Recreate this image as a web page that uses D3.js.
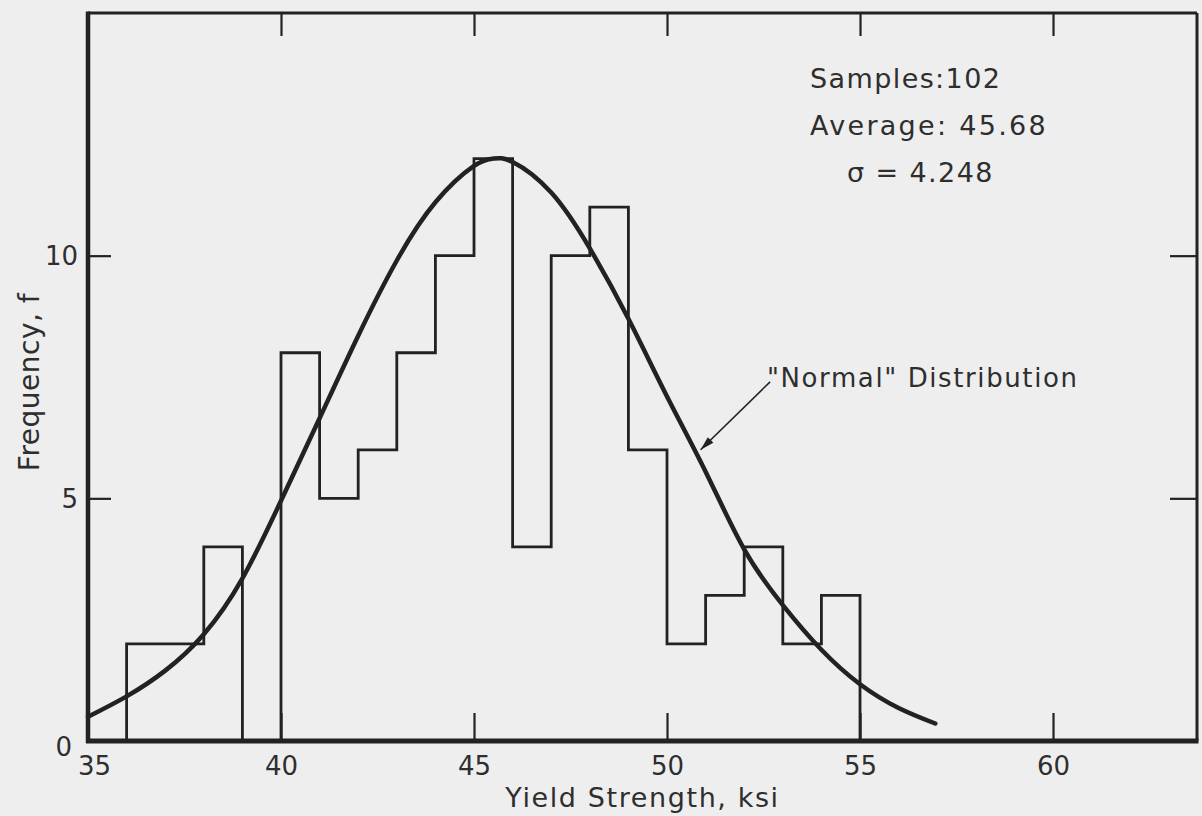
<!DOCTYPE html>
<html>
<head>
<meta charset="utf-8">
<script src="https://cdn.jsdelivr.net/npm/d3@7"></script>
<style>
  html, body { margin: 0; padding: 0; background: #eeeeee; }
  svg { display: block; }
  text { font-family: "DejaVu Sans", sans-serif; fill: #2e2e2e; }
</style>
</head>
<body>
<svg id="chart" width="1202" height="816"></svg>
<script>
// ---- data ----
const xTicks = [35, 40, 45, 50, 55, 60];
const yTicks = [0, 5, 10];
const binStarts = [36, 37, 38, 39, 40, 41, 42, 43, 44, 45, 46, 47, 48, 49, 50, 51, 52, 53, 54];
const binCounts = [2, 2, 4, 0, 8, 5, 6, 8, 10, 12, 4, 10, 11, 6, 2, 3, 4, 2, 3];
const binWidth = 1;
// "Normal" distribution curve
const normalX = [35, 36, 37, 38, 39, 40, 41, 42, 43, 44, 45, 45.5, 46, 47, 48, 49, 50, 51, 52, 53, 54, 55, 56, 56.95];
const normalY = [0.5, 0.92, 1.45, 2.2, 3.35, 4.95, 6.65, 8.35, 9.9, 11.1, 11.85, 12.0, 11.93, 11.3, 10.15, 8.7, 7.1, 5.55, 3.95, 2.8, 1.88, 1.17, 0.68, 0.36];
const statLines = ["Samples:102", "Average: 45.68", "\u03C3 = 4.248"];
const curveLabel = "\"Normal\" Distribution";
const xTitle = "Yield Strength, ksi";
const yTitle = "Frequency, f";

// ---- layout ----
const svg = d3.select("#chart");
const ink = "#222";
const x = d3.scaleLinear().domain([35, 63.73]).range([88, 1197]);
const y = d3.scaleLinear().domain([0, 15]).range([741, 13]);

// frame
const frame = svg.append("g");
frame.append("line").attr("x1", x.range()[0]).attr("x2", x.range()[1]).attr("y1", y(15)).attr("y2", y(15)).attr("stroke", ink).attr("stroke-width", 3);
frame.append("line").attr("x1", x.range()[1]).attr("x2", x.range()[1]).attr("y1", y(15)).attr("y2", y(0)).attr("stroke", ink).attr("stroke-width", 3);
frame.append("line").attr("x1", x.range()[0]).attr("x2", x.range()[0]).attr("y1", y(15) - 1.5).attr("y2", y(0) + 2).attr("stroke", ink).attr("stroke-width", 4.5);

// axes with inward ticks
const tickStroke = 2.2;
const axB = svg.append("g").attr("transform", `translate(0,${y(0)})`)
  .call(d3.axisBottom(x).tickValues(xTicks).tickSize(-28).tickPadding(0).tickFormat(d3.format("d")));
const axT = svg.append("g").attr("transform", `translate(0,${y(15)})`)
  .call(d3.axisTop(x).tickValues(xTicks.slice(1)).tickSize(-23).tickFormat(""));
const axL = svg.append("g").attr("transform", `translate(${x(35)},0)`)
  .call(d3.axisLeft(y).tickValues(yTicks).tickSize(-23).tickPadding(10).tickFormat(d3.format("d")));
const axR = svg.append("g").attr("transform", `translate(${x.range()[1]},0)`)
  .call(d3.axisRight(y).tickValues(yTicks.slice(1)).tickSize(-27).tickFormat(""));
[axB, axT, axL, axR].forEach(g => {
  g.select(".domain").remove();
  g.selectAll(".tick line").attr("stroke", ink).attr("stroke-width", tickStroke);
  g.selectAll("text").attr("font-family", null).style("font-size", "26px").attr("fill", "#2e2e2e");
});
axB.select(".tick line").remove();
axL.selectAll(".tick").filter(d => d === 0).select("line").remove();
axB.selectAll(".tick text").attr("y", 34).attr("dy", 0)
  .attr("dx", d => d === 35 ? 6 : 0);
axL.selectAll(".tick text").attr("dy", d => d === 0 ? "0.55em" : "0.35em")
  .attr("dx", d => d === 0 ? -6 : 0);

// bottom baseline (thick)
svg.append("line").attr("x1", x.range()[0] - 2).attr("x2", x.range()[1] + 1.5).attr("y1", y(0)).attr("y2", y(0)).attr("stroke", ink).attr("stroke-width", 5);

// histogram outline (step)
const histLine = d3.line().x(d => x(d[0])).y(d => y(d[1])).curve(d3.curveStepAfter);
const histPts = [[binStarts[0], 0], [binStarts[0], binCounts[0]]]
  .concat(binStarts.slice(1).map((b, i) => [b, binCounts[i + 1]]))
  .concat([[binStarts[binStarts.length - 1] + binWidth, 0]]);
svg.append("path").attr("d", histLine(histPts)).attr("fill", "none").attr("stroke", ink).attr("stroke-width", 2.8).attr("stroke-linejoin", "miter");

// normal curve
const curveLine = d3.line().x((d, i) => x(normalX[i])).y((d, i) => y(normalY[i])).curve(d3.curveNatural);
svg.append("path").attr("d", curveLine(normalX)).attr("fill", "none").attr("stroke", ink).attr("stroke-width", 4.5).attr("stroke-linecap", "round");

// stats text
const statX = [810, 810, 847];
const statY = [88, 135, 182];
svg.selectAll("text.stat").data(statLines).join("text").attr("class", "stat")
  .attr("x", (d, i) => statX[i]).attr("y", (d, i) => statY[i])
  .style("font-size", "27px").style("letter-spacing", (d, i) => i === 1 ? "2.3px" : "1.4px").text(d => d);

// curve label + arrow
svg.append("text").attr("x", 767).attr("y", 387).style("font-size", "26px").style("letter-spacing", "1.6px").text(curveLabel);
const tail = [52.67, 7.4], tip = [50.87, 6.0];
svg.append("line").attr("x1", x(tail[0])).attr("y1", y(tail[1])).attr("x2", x(tip[0])).attr("y2", y(tip[1]))
  .attr("stroke", ink).attr("stroke-width", 1.6);
{
  const ax = x(tip[0]), ay = y(tip[1]);
  const ang = Math.atan2(y(tail[1]) - ay, x(tail[0]) - ax);
  const L = 14, W = 4;
  const p = (l, w) => [ax + l * Math.cos(ang) - w * Math.sin(ang), ay + l * Math.sin(ang) + w * Math.cos(ang)];
  svg.append("path").attr("d", d3.line()([p(0, 0), p(L, W), p(L, -W)]) + "Z").attr("fill", ink);
}

// axis titles
svg.append("text").attr("x", (x.range()[0] + x.range()[1]) / 2).attr("y", 807).attr("text-anchor", "middle")
  .style("font-size", "27px").style("letter-spacing", "1.6px").text(xTitle);
svg.append("text").attr("transform", "translate(39,382) rotate(-90)").attr("text-anchor", "middle")
  .style("font-size", "28px").style("letter-spacing", "0.5px").text(yTitle);
</script>
</body>
</html>
